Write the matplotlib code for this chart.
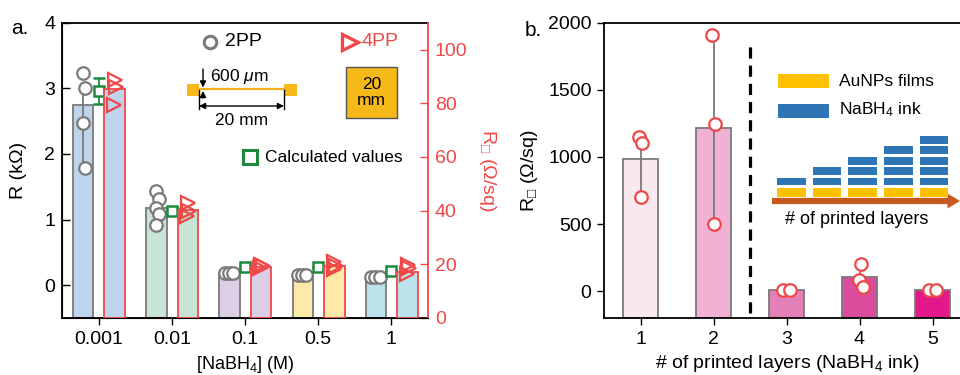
import numpy as np
import matplotlib
matplotlib.use("Agg")
import matplotlib.pyplot as plt
from matplotlib.patches import Rectangle

plt.rcParams['font.family'] = ['Liberation Sans', 'DejaVu Sans']
plt.rcParams['mathtext.fontset'] = 'custom'
plt.rcParams['mathtext.rm'] = 'Liberation Sans'
plt.rcParams['mathtext.it'] = 'Liberation Sans:italic'

# ---- panel a data ----
conc = ['0.001', '0.01', '0.1', '0.5', '1']
r2pp_bar = [2.75, 1.18, 0.19, 0.15, 0.13]            # kOhm
r2pp_pts = [[3.24, 3.01, 2.47, 1.78],
            [1.43, 1.31, 1.18, 1.09, 0.91],
            [0.19, 0.19, 0.19],
            [0.15, 0.15, 0.15],
            [0.13, 0.13, 0.13]]
r2pp_lo = [1.78, 0.91, 0.19, 0.15, 0.13]
r2pp_hi = [3.01, 1.43, 0.19, 0.15, 0.13]
calc = [2.96, 1.13, 0.28, 0.28, 0.21]
calc_err = [0.2, 0.0, 0.0, 0.0, 0.0]
rs4pp_bar = [85.2, 40.4, 19.0, 19.2, 17.3]            # Ohm/sq
rs4pp_pts = [[88.6, 86.2, 79.3],
             [42.9, 39.7, 38.1],
             [19.8, 19.2, 18.6],
             [21.0, 19.2, 18.2],
             [19.8, 18.6, 16.4]]
colors_a = ['#bdd4ec', '#c7e4d4', '#dccfe5', '#fdeaa8', '#bce2ec']

# ---- panel b data ----
layers = [1, 2, 3, 4, 5]
rs_bar = [983, 1219, 7, 102, 7]
rs_pts = [[1147, 1102, 704],
          [1908, 1244, 500],
          [7, 7],
          [199, 82, 32],
          [10, 10]]
rs_lo = [704, 500, 7, 32, 10]
rs_hi = [1102, 1908, 7, 199, 10]
colors_b = ['#f9e8ef', '#f0b1d2', '#e57fb7', '#dc4c9d', '#e3198a']

GRAY = '#7a7a7a'
RED = '#f04848'
GREEN = '#1b8a3c'
RSQ = 'R$_{\u25a1}$ ($\\Omega$/sq)'

W, H = 960, 375
fig = plt.figure(figsize=(9.6, 3.75), dpi=100)


def fr(x0, y0, x1, y1):
    # pixel box (top-left origin) -> figure fraction rect
    return [x0 / W, 1 - y1 / H, (x1 - x0) / W, (y1 - y0) / H]


def fp(x, y):
    return (x / W, 1 - y / H)


def spread(vals, tol):
    n = len(vals)
    if max(vals) - min(vals) < tol:
        return np.linspace(-0.07, 0.05, n)
    return np.array([0.0 if i % 2 == 0 else 0.03 for i in range(n)])


# ================= panel a =================
ax = fig.add_axes(fr(62, 22.7, 428, 318))
axr = ax.twinx()
x = np.arange(len(conc))
ybot = -0.5
ax.set_xlim(-0.5, 4.5)
ax.set_ylim(ybot, 4)
axr.set_ylim(0, 110)

ax.bar(x - 0.21, np.array(r2pp_bar) - ybot, bottom=ybot, width=0.28,
       color=colors_a, edgecolor=GRAY, linewidth=1.3, zorder=2)
axr.bar(x + 0.22, rs4pp_bar, width=0.28, color=colors_a,
        edgecolor=RED, linewidth=1.3, zorder=2)

for i in range(len(conc)):
    ax.vlines(x[i] - 0.21, r2pp_lo[i], r2pp_hi[i], color=GRAY, lw=1.3, zorder=3)
    pts = r2pp_pts[i]
    ax.plot(x[i] - 0.21 + spread(pts, 0.1), pts, 'o', ms=9, mfc='white',
            mec=GRAY, mew=1.6, ls='none', zorder=4)
    tp = rs4pp_pts[i]
    axr.plot(x[i] + 0.22 + np.array([0.0, 0.02, -0.01])[:len(tp)], tp, '>',
             ms=9.5, mfc='none', mec=RED, mew=1.6, ls='none', zorder=4)

ax.errorbar(x, calc, yerr=calc_err, fmt='s', ms=7, mfc='white', mec=GREEN,
            mew=1.8, ecolor=GREEN, elinewidth=1.3, capsize=4, capthick=1.3,
            zorder=5)

ax.set_xticks(x)
ax.set_xticklabels(conc)
ax.set_yticks([0, 1, 2, 3, 4])
ax.tick_params(axis='y', direction='in', length=6, width=1, labelsize=14, pad=5)
ax.tick_params(axis='x', direction='out', length=5, width=1, labelsize=14, pad=4)
axr.set_yticks([0, 20, 40, 60, 80, 100])
axr.tick_params(axis='y', direction='in', length=6, width=1, colors=RED,
                labelsize=14, pad=5)
axr.spines['right'].set_color(RED)
axr.spines['right'].set_linewidth(1.3)
ax.spines['right'].set_visible(False)
for s in ['left', 'top', 'bottom']:
    ax.spines[s].set_linewidth(1.3)
axr.spines['top'].set_visible(False)
ax.set_ylabel('R (k\u03a9)', fontsize=14, labelpad=12)
axr.set_ylabel(RSQ, fontsize=14, color=RED, rotation=270, labelpad=22)
ax.set_xlabel(r'[NaBH$_4$] (M)', fontsize=13, labelpad=5)

fig.text(*fp(20, 29), 'a.', fontsize=15, ha='center', va='center')

# legend-like annotations
fig.lines.append(plt.Line2D(*zip(fp(210, 42)), marker='o', ms=9, mfc='white',
                            mec=GRAY, mew=2.2, transform=fig.transFigure))
fig.text(*fp(225, 42), '2PP', fontsize=14, va='center')
fig.lines.append(plt.Line2D(*zip(fp(350, 42)), marker='>', ms=11, mfc='none',
                            mec=RED, mew=2.4, transform=fig.transFigure))
fig.text(*fp(362, 42), '4PP', fontsize=14, va='center', color=RED)
fig.lines.append(plt.Line2D(*zip(fp(250, 157)), marker='s', ms=10, mfc='white',
                            mec=GREEN, mew=2.2, transform=fig.transFigure))
fig.text(*fp(265, 157), 'Calculated values', fontsize=12.5, va='center')

# line-strip schematic
fig.add_artist(Rectangle(fp(187, 96), 12 / W, 12 / H, transform=fig.transFigure,
                         color='#f8b81a', lw=0))
fig.add_artist(Rectangle(fp(284, 96), 13 / W, 12 / H, transform=fig.transFigure,
                         color='#f8b81a', lw=0))
fig.lines.append(plt.Line2D(*zip(fp(199, 89), fp(284, 89)), color='#f5b01a',
                            lw=1.6, transform=fig.transFigure))
for xx in [199, 284]:
    fig.lines.append(plt.Line2D(*zip(fp(xx, 90), fp(xx, 109)), color='k',
                                lw=1, transform=fig.transFigure))
ap = dict(arrowstyle='<|-|>', color='k', lw=1, mutation_scale=9,
          shrinkA=0, shrinkB=0)
ax.annotate('', xy=fp(199, 106), xytext=fp(284, 106), xycoords='figure fraction',
            textcoords='figure fraction', arrowprops=ap)
ap1 = dict(arrowstyle='-|>', color='k', lw=1, mutation_scale=9,
           shrinkA=0, shrinkB=0)
ax.annotate('', xy=fp(203, 87.5), xytext=fp(203, 69), xycoords='figure fraction',
            textcoords='figure fraction', arrowprops=ap1)
ax.annotate('', xy=fp(203, 91), xytext=fp(203, 98), xycoords='figure fraction',
            textcoords='figure fraction', arrowprops=ap1)
fig.text(*fp(210, 76), '600 $\\mu$m', fontsize=12.5, va='center')
fig.text(*fp(242, 120), '20 mm', fontsize=12.5, va='center', ha='center')
fig.add_artist(Rectangle(fp(346, 118), 51 / W, 51 / H, transform=fig.transFigure,
                         facecolor='#f6b91a', edgecolor='#555555', lw=1))
fig.text(*fp(371.5, 92.5), '20\nmm', fontsize=12.5, va='center', ha='center',
         linespacing=1.1)

# ================= panel b =================
bx = fig.add_axes(fr(604, 22.7, 970, 318))
xb = np.array(layers)
ybot_b = -200
bx.set_xlim(0.5, 0.5 + 366 / 73)
bx.set_ylim(ybot_b, 2000)
bx.bar(xb, np.array(rs_bar) - ybot_b, bottom=ybot_b, width=0.49,
       color=colors_b, edgecolor=GRAY, linewidth=1.3, zorder=2)
for i in range(len(layers)):
    bx.vlines(xb[i], rs_lo[i], rs_hi[i], color=GRAY, lw=1.3, zorder=3)
    pts = rs_pts[i]
    if max(pts) - min(pts) < 50:
        jx = np.linspace(-0.05, 0.05, len(pts))
    elif max(pts) < 500:
        jx = np.array([0.02, -0.01, 0.05])[:len(pts)]
    else:
        jx = np.array([-0.02, 0.02, 0.0])[:len(pts)]
    bx.plot(xb[i] + jx, pts, 'o', ms=9, mfc='white', mec=RED, mew=1.6,
            ls='none', zorder=4)
bx.vlines(2.5, -165, 1860, color='k', lw=2.3, linestyles=(0, (3.5, 2.2)),
          zorder=3)

bx.set_xticks(xb)
bx.set_yticks([0, 500, 1000, 1500, 2000])
bx.tick_params(axis='both', direction='out', length=5, width=1, labelsize=14,
               pad=4)
bx.spines['right'].set_visible(False)
for s in ['left', 'top', 'bottom']:
    bx.spines[s].set_linewidth(1.3)
bx.set_ylabel(RSQ, fontsize=14, labelpad=6)
bx.set_xlabel(r'# of printed layers (NaBH$_4$ ink)', fontsize=14, labelpad=4)
fig.text(*fp(533, 31), 'b.', fontsize=15, ha='center', va='center')

YEL = '#ffc000'
BLU = '#2e75b6'
fig.add_artist(Rectangle(fp(778, 88), 51 / W, 14 / H, transform=fig.transFigure,
                         color=YEL, lw=0))
fig.add_artist(Rectangle(fp(778, 118), 51 / W, 14 / H, transform=fig.transFigure,
                         color=BLU, lw=0))
fig.text(*fp(839, 81), 'AuNPs films', fontsize=12.5, va='center')
fig.text(*fp(839, 110), r'NaBH$_4$ ink', fontsize=12.5, va='center')
for c in range(5):
    x0 = 777 + c * 35.7
    fig.add_artist(Rectangle(fp(x0, 196.5), 28.5 / W, 8.5 / H,
                             transform=fig.transFigure, color=YEL, lw=0))
    for j in range(c + 1):
        yb = 185.5 - j * 10.5
        fig.add_artist(Rectangle(fp(x0, yb), 28.5 / W, 7.8 / H,
                                 transform=fig.transFigure, color=BLU, lw=0))
bx.annotate('', xy=fp(960, 201), xytext=fp(772, 201), xycoords='figure fraction',
            textcoords='figure fraction',
            arrowprops=dict(arrowstyle='simple,head_width=1.2,head_length=1.0,tail_width=0.5',
                            color='#c55a1c', lw=0, mutation_scale=9,
                            shrinkA=0, shrinkB=0))
fig.text(*fp(857, 219), '# of printed layers', fontsize=13, va='center',
         ha='center')

fig.savefig('out.png', dpi=100)
